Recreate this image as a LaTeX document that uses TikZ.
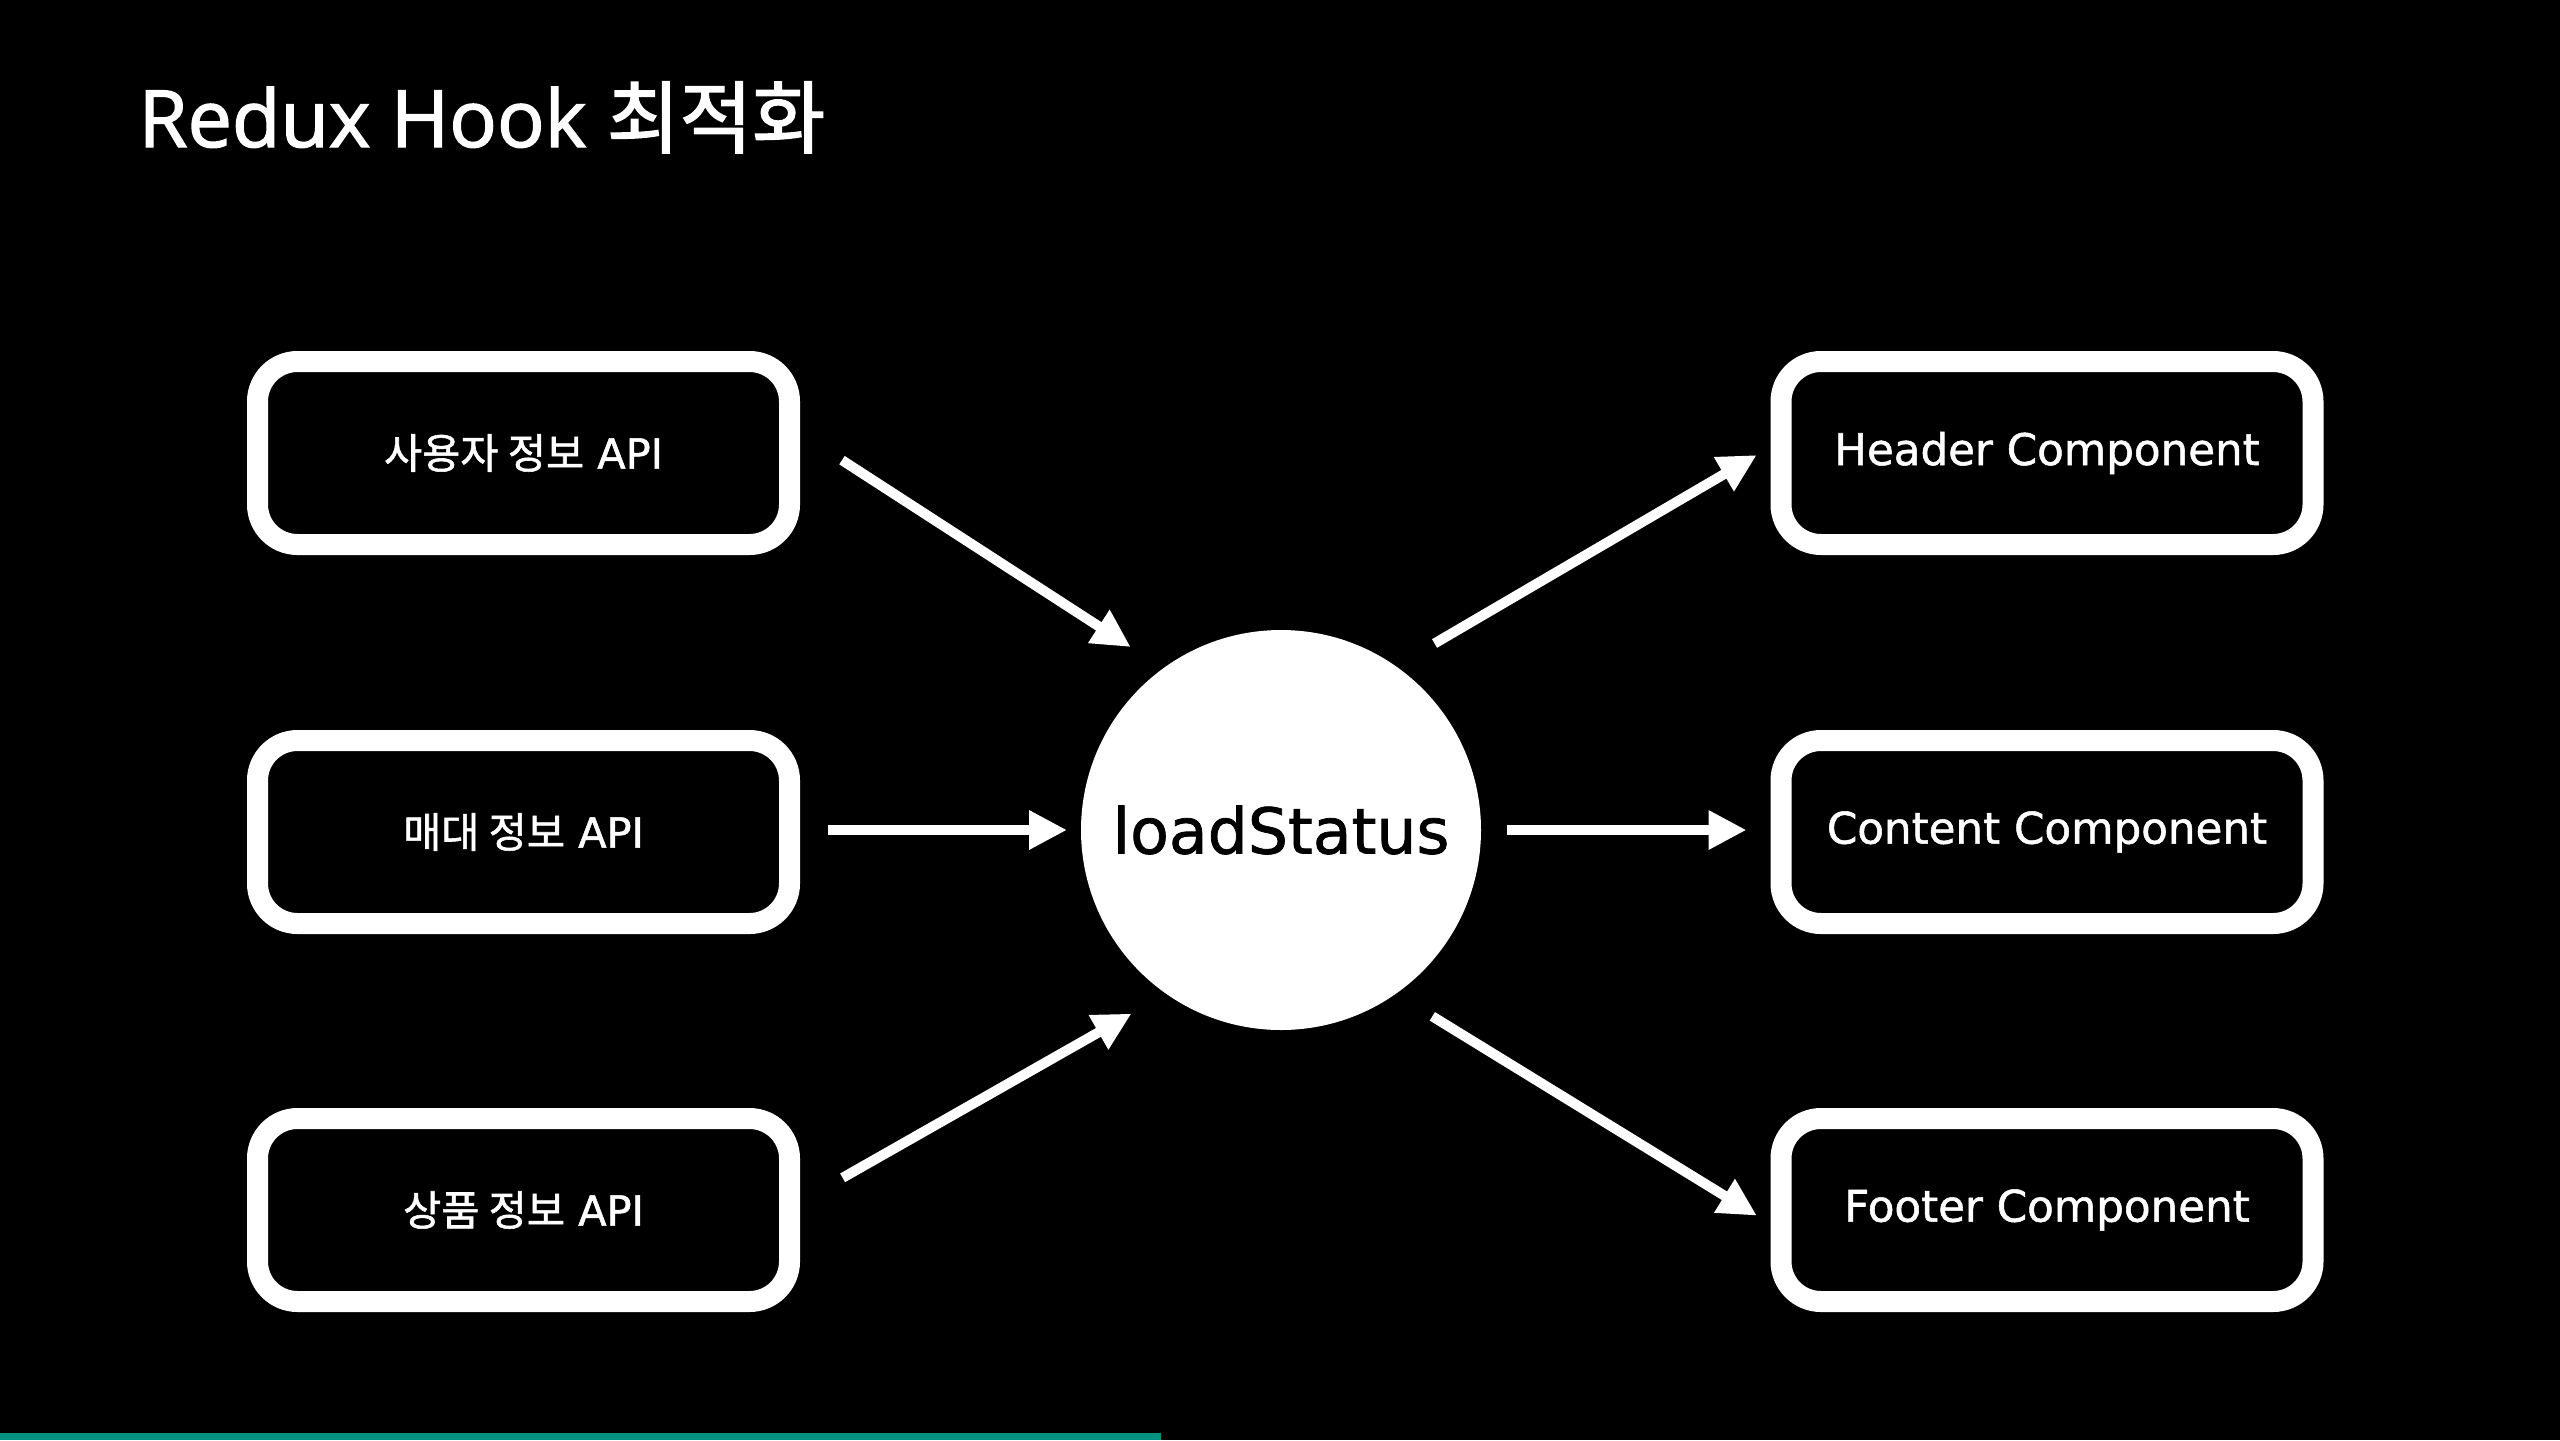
\documentclass[tikz,border=0pt]{standalone}
\usepackage{fontspec}
\usepackage{xcolor}
\usepackage{tikz}
\usetikzlibrary{arrows, arrows.meta, positioning}
\setmainfont{DejaVu Sans}[FakeBold=1.2]
\newfontfamily\krfont{Noto Sans CJK KR}[FakeBold=1.4]
\newfontfamily\titlefont{Open Sans}[FakeBold=1.8]
\newfontfamily\krtitlefont{Noto Sans CJK KR}[FakeBold=1.8]
\definecolor{barteal}{RGB}{0,146,128}
\tikzstyle{arrow}     = [white, line width=0.1cm, -{Triangle[length=0.38cm, width=0.37cm]}]
\tikzset{every node/.style={align=center}}

\begin{document}
\begin{tikzpicture}[
    box/.style={rectangle, rounded corners=0.4cm, draw=white, line width=0.21cm, fill=black,
                minimum width=5.32cm, minimum height=1.83cm, text=white,
                font=\fontsize{12.4}{14}\selectfont},
    apibox/.style={box, font=\fontsize{11.8}{14}\selectfont},
    hub/.style={circle, fill=white, minimum size=4.0cm, inner sep=0pt, outer sep=0pt,
                font=\fontsize{18}{20}\selectfont}
]
  % --- background ---
  \fill[black] (0,0) rectangle (25.6,-14.4);
  \useasboundingbox (0,0) rectangle (25.6,-14.4);
  \fill[barteal] (0,-14.33) rectangle (11.61,-14.40);

  % --- title ---
  \node[anchor=base west, inner sep=0pt, text=white,
        font=\titlefont\fontsize{22.5}{26}\selectfont] (TTL) at (1.38,-1.47) {Redux Hook {\krtitlefont 최적화}};

  % --- API sources (left) ---
  \node[apibox] (AUSR) at (5.235, -4.53)  {{\krfont 사용자 정보} API};
  \node[apibox] (AMED) at (5.235, -8.32)  {{\krfont 매대 정보} API};
  \node[apibox] (APRD) at (5.235, -12.10) {{\krfont 상품 정보} API};

  % --- hub ---
  \node[hub] (LS) at (12.81, -8.30) {loadStatus};

  % --- components (right) ---
  \node[box] (CHDR) at (20.47, -4.53)  {Header Component};
  \node[box] (CCNT) at (20.47, -8.32)  {Content Component};
  \node[box] (CFTR) at (20.47, -12.10) {Footer Component};

  % --- arrows in ---
  \draw[arrow, shorten <=0.50cm, shorten >=0.39cm] ([yshift=0.20cm]AUSR.east) -- (LS.126);
  \draw[arrow, shorten <=0.28cm, shorten >=0.14cm] (AMED.east |- LS) -- (LS);
  \draw[arrow, shorten <=0.49cm, shorten >=0.40cm] ([yshift=0.08cm]APRD.east) -- (LS.235);

  % --- arrows out ---
  \draw[arrow, shorten <=0.45cm, shorten >=0.16cm] (LS.55) -- ([yshift=0.06cm]CHDR.west);
  \draw[arrow, shorten <=0.26cm, shorten >=0.24cm] (LS) -- (LS -| CCNT.west);
  \draw[arrow, shorten <=0.43cm, shorten >=0.16cm] (LS.305) -- ([yshift=-0.14cm]CFTR.west);
\end{tikzpicture}
\end{document}
